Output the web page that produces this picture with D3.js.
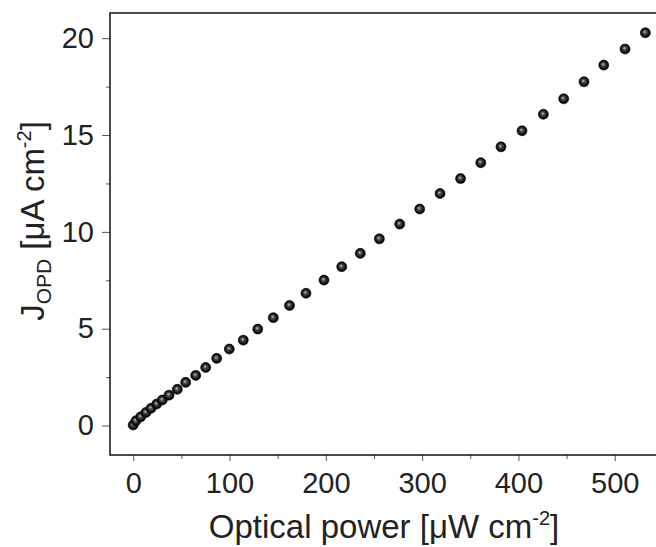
<!DOCTYPE html>
<html>
<head>
<meta charset="utf-8">
<script src="https://cdn.jsdelivr.net/npm/d3@7"></script>
<style>
  body { margin: 0; background: #fff; }
  svg { display: block; font-family: "Liberation Sans", Arial, sans-serif; }
</style>
</head>
<body>
<div id="chart"></div>
<script>
// optical power [uW cm^-2] and photocurrent density [uA cm^-2]
const power = [0, 2.9, 7.8, 13.3, 18.5, 24.4, 30.2, 37.2, 45.8, 54.5, 64.9, 75.3, 86.7, 99.8,
  114.3, 129.3, 145.5, 162.3, 179.4, 198.1, 216.5, 235.8, 255.6, 276.7, 297.5, 318.6,
  339.9, 360.9, 381.9, 403.7, 425.9, 447.0, 468.1, 488.6, 510.7, 531.8];
const current = [0.03, 0.25, 0.45, 0.68, 0.89, 1.11, 1.32, 1.57, 1.87, 2.23, 2.59, 3.00, 3.47, 3.95,
  4.41, 4.98, 5.57, 6.20, 6.83, 7.51, 8.20, 8.89, 9.64, 10.40, 11.18, 11.98,
  12.75, 13.57, 14.39, 15.22, 16.07, 16.87, 17.75, 18.61, 19.44, 20.28];
const xTicks = [0, 100, 200, 300, 400, 500];
const xMinor = [50, 150, 250, 350, 450];
const yTicks = [0, 5, 10, 15, 20];
const yMinor = [2.5, 7.5, 12.5, 17.5];

const width = 656, height = 547;
const plotLeft = 110, plotRight = 660, plotTop = 13, plotBottom = 455;

const svg = d3.select("#chart").append("svg")
    .attr("width", width)
    .attr("height", height);

const x = d3.scaleLinear().domain([-24.1, 547]).range([plotLeft, plotRight]);
const y = d3.scaleLinear().domain([-1.52, 21.3]).range([plotBottom, plotTop]);

// sphere look for the markers
const grad = svg.append("defs").append("radialGradient")
    .attr("id", "ball")
    .attr("cx", "0.5").attr("cy", "0.5").attr("r", "0.5")
    .attr("fx", "0.42").attr("fy", "0.4");
grad.append("stop").attr("offset", "0%").attr("stop-color", "#d0d0d0");
grad.append("stop").attr("offset", "30%").attr("stop-color", "#555");
grad.append("stop").attr("offset", "75%").attr("stop-color", "#111");
grad.append("stop").attr("offset", "100%").attr("stop-color", "#000");

const tickColor = "#555";
const textColor = "#222";
const tickFont = "29px";

// minor ticks first, majors over them
svg.append("g")
    .attr("transform", `translate(0,${plotBottom})`)
    .call(d3.axisBottom(x).tickValues(xMinor).tickSize(4).tickFormat(""))
    .call(g => g.select(".domain").remove())
    .call(g => g.selectAll("line").attr("stroke", tickColor));

svg.append("g")
    .attr("transform", `translate(${plotLeft},0)`)
    .call(d3.axisLeft(y).tickValues(yMinor).tickSize(4).tickFormat(""))
    .call(g => g.select(".domain").remove())
    .call(g => g.selectAll("line").attr("stroke", tickColor));

svg.append("g")
    .attr("transform", `translate(0,${plotBottom})`)
    .call(d3.axisBottom(x).tickValues(xTicks).tickSize(6).tickPadding(11).tickFormat(d3.format("d")))
    .call(g => g.select(".domain").remove())
    .call(g => g.selectAll("line").attr("stroke", tickColor))
    .call(g => g.selectAll("text")
        .attr("fill", textColor)
        .style("font-size", tickFont)
        .style("font-family", "'Liberation Sans', Arial, sans-serif"));

svg.append("g")
    .attr("transform", `translate(${plotLeft},0)`)
    .call(d3.axisLeft(y).tickValues(yTicks).tickSize(8).tickPadding(8).tickFormat(d3.format("d")))
    .call(g => g.select(".domain").remove())
    .call(g => g.selectAll("line").attr("stroke", tickColor))
    .call(g => g.selectAll("text")
        .attr("fill", textColor)
        .style("font-size", tickFont)
        .style("font-family", "'Liberation Sans', Arial, sans-serif"));

// frame (right side falls outside the window)
svg.append("path")
    .attr("d", `M${plotRight},${plotBottom}H${plotLeft}V${plotTop}H${plotRight}`)
    .attr("fill", "none")
    .attr("stroke", "#111")
    .attr("stroke-width", 1.5);

// markers
svg.append("g")
  .selectAll("circle")
  .data(power.map((p, i) => [p, current[i]]))
  .join("circle")
    .attr("cx", d => x(d[0]))
    .attr("cy", d => y(d[1]))
    .attr("r", 5)
    .attr("fill", "url(#ball)")
    .attr("stroke", "#000")
    .attr("stroke-width", 0.6);

// x title
const xt = svg.append("text")
    .attr("x", 384)
    .attr("y", 538)
    .attr("text-anchor", "middle")
    .attr("fill", textColor)
    .style("font-size", "33px");
xt.append("tspan").text("Optical power [\u03BCW cm");
xt.append("tspan").attr("dy", -13).style("font-size", "20px").text("-2");
xt.append("tspan").attr("dy", 13).text("]");

// y title
const yt = svg.append("text")
    .attr("transform", `translate(44,221) rotate(-90)`)
    .attr("text-anchor", "middle")
    .attr("fill", textColor)
    .style("font-size", "33px");
yt.append("tspan").text("J");
yt.append("tspan").attr("dy", 7).style("font-size", "21px").text("OPD");
yt.append("tspan").attr("dy", -7).text(" [\u03BCA cm");
yt.append("tspan").attr("dy", -13).style("font-size", "20px").text("-2");
yt.append("tspan").attr("dy", 13).text("]");
</script>
</body>
</html>
